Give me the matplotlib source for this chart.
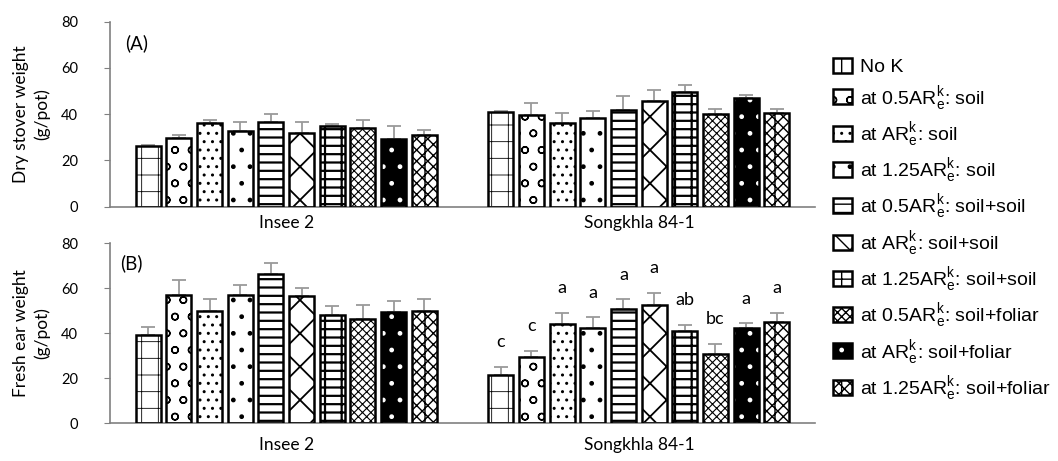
import numpy as np
import matplotlib
matplotlib.use("Agg")
import matplotlib.pyplot as plt

plt.rcParams["font.family"] = ["Lato", "DejaVu Sans"]
plt.rcParams["mathtext.fontset"] = "custom"
plt.rcParams["mathtext.rm"] = "Liberation Sans"
plt.rcParams["mathtext.it"] = "Liberation Sans"

cultivars = ["Insee 2", "Songkhla 84-1"]
treatments = ["No K",
              r"at 0.5AR$^{k}_{e}$: soil",
              r"at AR$^{k}_{e}$: soil",
              r"at 1.25AR$^{k}_{e}$: soil",
              r"at 0.5AR$^{k}_{e}$: soil+soil",
              r"at AR$^{k}_{e}$: soil+soil",
              r"at 1.25AR$^{k}_{e}$: soil+soil",
              r"at 0.5AR$^{k}_{e}$: soil+foliar",
              r"at AR$^{k}_{e}$: soil+foliar",
              r"at 1.25AR$^{k}_{e}$: soil+foliar"]

# (A) dry stover weight, g/pot  -> rows: Insee 2, Songkhla 84-1
stover_mean = [[26.2, 29.7, 36.4, 32.7, 36.7, 32.0, 35.0, 34.2, 29.4, 31.2],
               [40.9, 39.8, 36.4, 38.4, 42.0, 45.5, 49.4, 40.3, 47.2, 40.4]]
stover_err = [[0.6, 1.4, 1.3, 3.8, 3.3, 4.7, 0.8, 3.5, 5.5, 1.8],
              [0.5, 5.0, 4.0, 3.2, 5.9, 5.1, 3.1, 2.1, 1.3, 1.8]]
# (B) fresh ear weight, g/pot
ear_mean = [[39.1, 57.2, 50.1, 56.9, 66.2, 56.4, 48.1, 46.2, 49.3, 50.1],
            [21.3, 29.5, 44.1, 42.5, 50.8, 52.6, 40.9, 30.7, 42.5, 45.0]]
ear_err = [[3.9, 6.5, 5.0, 4.4, 5.1, 3.6, 4.0, 6.2, 4.9, 5.2],
           [3.9, 2.6, 4.9, 4.6, 4.3, 5.3, 3.0, 4.6, 1.9, 4.0]]
ear_letters = ["c", "c", "a", "a", "a", "a", "ab", "bc", "a", "a"]

# style of each treatment: face, hatch, hatch colour, hatch width
hatches = ["+", "o", "..", ".", "--", "x", "-+", "xxxx", ".", "xxx|"]
faces = ["white"] * 8 + ["black", "white"]
hcolors = ["black"] * 8 + ["white", "black"]
hwidths = [0.6, 1.0, 1.0, 1.0, 1.6, 1.3, 1.6, 0.8, 1.0, 1.0]

fig = plt.figure(figsize=(10.58, 4.61), dpi=100)
ax_a = fig.add_axes([0.104, 0.5516, 0.6664, 0.4013])
ax_b = fig.add_axes([0.104, 0.0818, 0.6664, 0.3905])

x = np.arange(len(cultivars))
pitch, w = 0.087, 0.071
handles = []

def draw(ax, means, errs, keep):
    means = np.array(means)
    errs = np.array(errs)
    for i in range(len(treatments)):
        xi = x + (i - 4.5) * pitch
        ax.errorbar(xi, means[:, i], yerr=[np.zeros(len(x)), errs[:, i]], fmt="none",
                    ecolor="#9a9a9a", elinewidth=1.3, capsize=4.7, capthick=1.3, zorder=1)
        with plt.rc_context({"hatch.linewidth": hwidths[i]}):
            b1 = ax.bar(xi, means[:, i], w, color=faces[i], edgecolor=hcolors[i],
                        hatch=hatches[i], linewidth=0, zorder=2)
            b2 = ax.bar(xi, means[:, i], w, fill=False, edgecolor="black",
                        linewidth=1.8, zorder=3)
        if keep:
            handles.append((b1, b2))
    ax.set_xlim(-0.5, 1.5)
    ax.set_ylim(0, 80)
    ax.set_yticks([0, 20, 40, 60, 80])
    ax.set_xticks(x)
    ax.set_xticklabels(cultivars, fontsize=12.5)
    ax.tick_params(axis="x", length=0, pad=6)
    ax.tick_params(axis="y", labelsize=10.5, length=4, color="#808080", pad=19)
    for s in ["top", "right"]:
        ax.spines[s].set_visible(False)
    for s in ["left", "bottom"]:
        ax.spines[s].set_color("#808080")
        ax.spines[s].set_linewidth(1.2)

draw(ax_a, stover_mean, stover_err, True)
draw(ax_b, ear_mean, ear_err, False)
ax_b.tick_params(axis="x", pad=10)

ax_a.set_ylabel("Dry stover weight\n(g/pot)", fontsize=12.5, labelpad=8, linespacing=1.35)
ax_b.set_ylabel("Fresh ear weight\n(g/pot)", fontsize=12.5, labelpad=8, linespacing=1.35)
ax_a.text(0.021, 0.886, "(A)", transform=ax_a.transAxes, fontsize=13.5, va="center")
ax_b.text(0.014, 0.89, "(B)", transform=ax_b.transAxes, fontsize=13.5, va="center")

# significance letters for Songkhla 84-1
for i, lab in enumerate(ear_letters):
    xi = x[1] + (i - 4.5) * pitch
    ax_b.text(xi, ear_mean[1][i] + ear_err[1][i] + 11, lab, ha="center", va="center",
              fontsize=13)

fig.legend(handles, treatments, loc="upper left", bbox_to_anchor=(0.787, 0.874),
           frameon=False, prop={"family": "Liberation Sans", "size": 14},
           handlelength=1.0, handleheight=0.8, handletextpad=0.4, labelspacing=0.38,
           borderaxespad=0, borderpad=0)

fig.savefig("out.png", dpi=100)
